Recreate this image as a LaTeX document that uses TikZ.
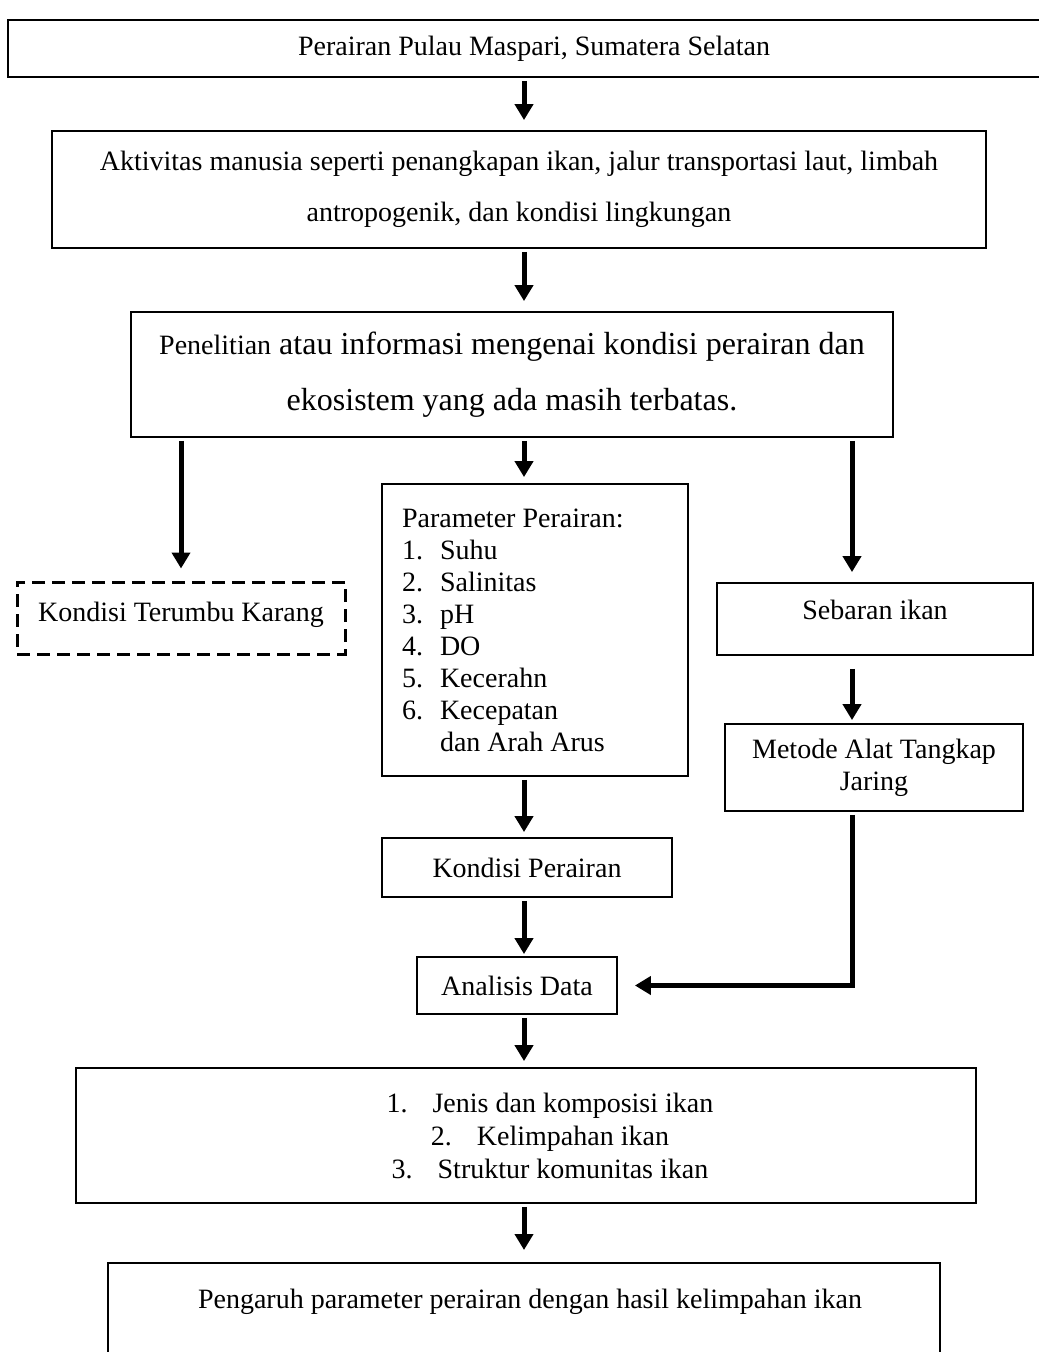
\documentclass[tikz,border=0pt]{standalone}
\usepackage{fontspec}
\setmainfont{Liberation Serif}
\usepackage{tikz}
\usetikzlibrary{arrows.meta}
\newcommand{\itm}[1]{\makebox[19pt][l]{#1}}
\newcommand{\nomor}[1]{\hspace*{24pt}\makebox[23pt][l]{#1}}

\begin{document}
\begin{tikzpicture}[>={Triangle[length=8pt,width=9pt]},x=0.5pt,y=-0.5pt,font=\fontsize{14}{16}\selectfont]
\tikzset{
 n/.style={draw,line width=0.9pt,align=center,inner sep=0pt},
 nd/.style={n,line width=1.5pt,dash pattern=on 6.5pt off 3.5pt},
 a/.style={->,line width=2.5pt,shorten <=1.5pt,shorten >=3pt}
}
\useasboundingbox (0,0) rectangle (1038,1352);
\coordinate (mid) at (524,0);
\coordinate (kanan) at (852,0);

\node[n,minimum width=526pt,minimum height=28.5pt] (lokasi) at (534,48.5) {Perairan Pulau Maspari, Sumatera Selatan};
\node[n,minimum width=467pt,minimum height=58.5pt] (aktivitas) at (519,189.5) {Aktivitas manusia seperti penangkapan ikan, jalur transportasi laut, limbah\\[9.5pt]antropogenik, dan kondisi lingkungan};
\node[n,minimum width=381pt,minimum height=62.5pt,font=\fontsize{16}{28}\selectfont] (masalah) at (512,374.5) {{\fontsize{14}{16}\selectfont Penelitian} atau informasi mengenai kondisi perairan dan\\ekosistem yang ada masih terbatas.};

\node[nd,minimum width=164pt,text height=19.5pt,text depth=16.5pt] (terumbu) at (181,618) {Kondisi Terumbu Karang};
\node[n,minimum height=146pt,inner xsep=10pt,text width=133pt,align=flush left] (param) at (535,630) {Parameter Perairan:\\\itm{1.}Suhu\\\itm{2.}Salinitas\\\itm{3.}pH\\\itm{4.}DO\\\itm{5.}Kecerahn\\\itm{6.}Kecepatan\\\hspace*{19pt}dan Arah Arus};
\node[n,minimum width=158pt,text height=18pt,text depth=18pt] (sebaran) at (875,619) {Sebaran ikan};
\node[n,minimum width=149pt,minimum height=43.5pt] (metode) at (874,767.5) {Metode Alat Tangkap\\Jaring};

\node[n,minimum width=145pt,minimum height=29.5pt] (kondisi) at (527,867.5) {Kondisi Perairan};
\node[n,minimum width=100pt,minimum height=28.5pt] (analisis) at (517,985.5) {Analisis Data};
\node[n,minimum width=450pt,minimum height=67.5pt,font=\fontsize{14}{16.5}\selectfont] (jenis) at (526,1135.5) {\nomor{1.}Jenis dan komposisi ikan\\\nomor{2.}Kelimpahan ikan\\\nomor{3.}Struktur komunitas ikan};
\node[n,anchor=north,minimum width=416pt,text height=23pt,text depth=60pt] (hasil) at (524,1262) {\hspace*{6pt}Pengaruh parameter perairan dengan hasil kelimpahan ikan};

% alur utama
\draw[a,shorten >=5pt] (lokasi.south -| mid) -- (aktivitas.north -| mid);
\draw[a,shorten >=5pt] (aktivitas.south -| mid) -- (masalah.north -| mid);
\draw[a,shorten >=6pt] (masalah.south -| terumbu) -- (terumbu.north);
\draw[a] (masalah.south -| mid) -- (param.north -| mid);
\draw[a,shorten >=5pt] (masalah.south -| kanan) -- (sebaran.north -| kanan);
\draw[a,shorten <=6.5pt,shorten >=1.5pt] (sebaran.south -| kanan) -- (metode.north -| kanan);
\draw[a,shorten >=8.5pt] (metode.south -| kanan) |- (analisis.east);
\draw[a,shorten >=2.5pt] (param.south -| mid) -- (kondisi.north -| mid);
\draw[a,shorten >=1pt] (kondisi.south -| mid) -- (analisis.north -| mid);
\draw[a] (analisis.south -| mid) -- (jenis.north -| mid);
\draw[a,shorten >=6pt] (jenis.south -| mid) -- (hasil.north -| mid);
\end{tikzpicture}
\end{document}
